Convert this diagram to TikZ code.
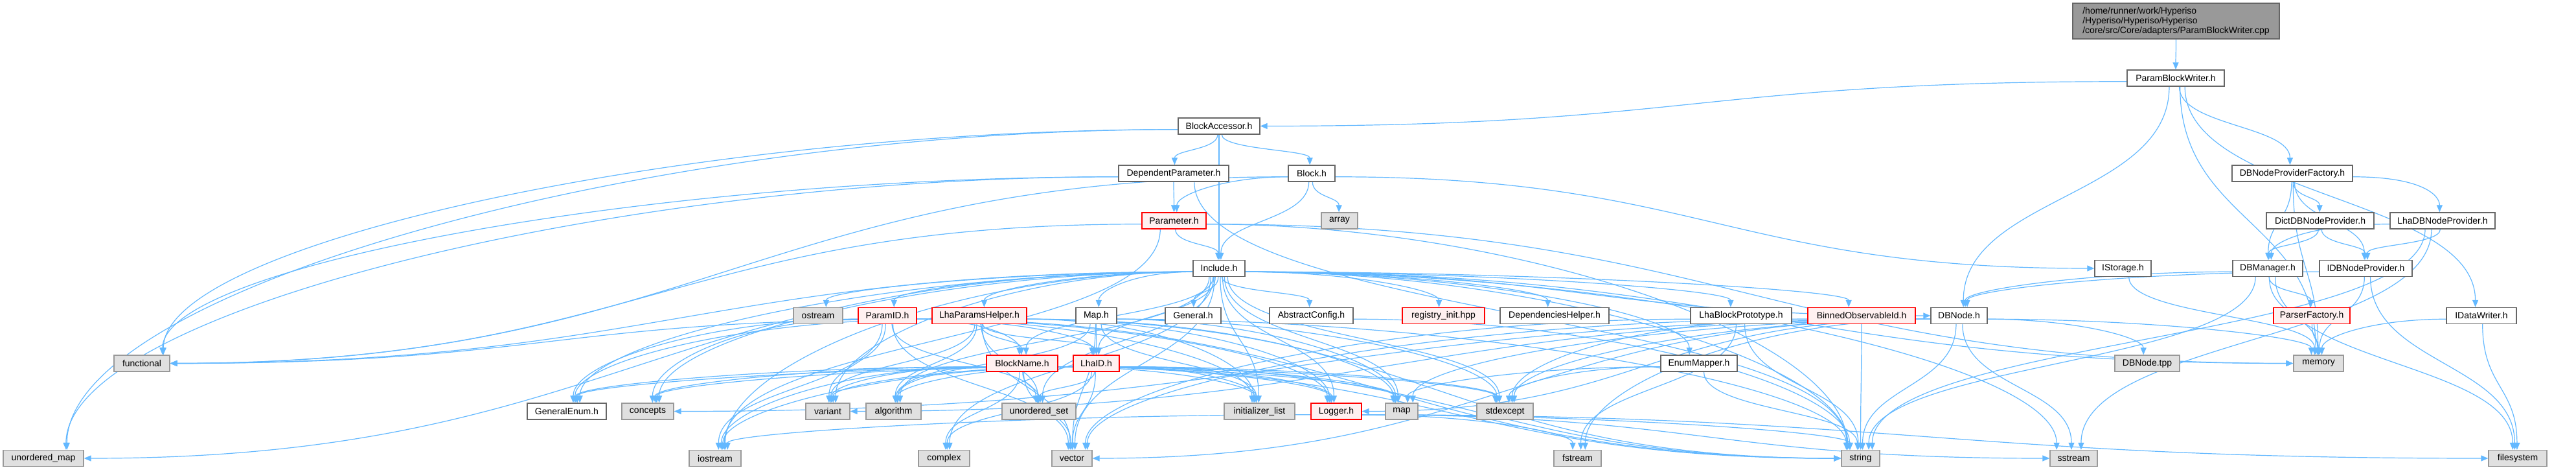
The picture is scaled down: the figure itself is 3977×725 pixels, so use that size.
\documentclass[tikz,border=0pt]{standalone}
\usepackage{fontspec}
\setmainfont{Liberation Sans}
\usetikzlibrary{arrows.meta,calc}

\definecolor{edgeblue}{HTML}{63B8FF}
\definecolor{boxgray}{HTML}{666666}
\definecolor{rootgray}{HTML}{999999}
\definecolor{sysfill}{HTML}{E0E0E0}
\definecolor{sysdraw}{HTML}{999999}
\definecolor{redfill}{HTML}{FFF0F0}

\pgfdeclarelayer{edges}
\pgfsetlayers{edges,main}

% include edge: leaves by the bottom (or the side when the target is far away)
\newcommand\dep[2]{%
  \draw[dep] let \p1=(#1.center), \p2=(#2.center), \p3=(#1.north east), \p4=(#2.north east),
      \n{dx}={\x2-\x1}, \n{dy}={\y1-\y2},
      \n{s}={ifthenelse(\n{dx}>0,1,-1)},
      \n{out}={ifthenelse(abs(\n{dx})>2.5*\n{dy},1,0)},
      \n{in}={ifthenelse(abs(\n{dx})>6*\n{dy},ifthenelse(\n{dy}>100,1,ifthenelse(abs(\n{dx})>1000,1,0)),0)},
      \n{sx}={\x1+ifthenelse(\n{out}>0,(\n{s})*(\x3-\x1),min(max(0.03*\n{dx},\x1-\x3+8),\x3-\x1-8))},
      \n{sy}={\y1-(1-0.6*\n{out})*(\y3-\y1)},
      \n{ex}={\x2+ifthenelse(\n{in}>0,(0-\n{s})*(\x4-\x2),min(max(-0.02*\n{dx},\x2-\x4+8),\x4-\x2-8))},
      \n{ey}={\y2+(1-\n{in})*(\y4-\y2)},
      \n{gap}={max(15,0.5*(\n{sy}-\n{ey}))},
      \n{hx}={0.45*abs(\n{dx})}
    in (\n{sx},\n{sy}) .. controls +({(\n{out})*(\n{s})*\n{hx}},{(\n{out}-1)*\n{gap}})
        and +({(0-\n{in})*(\n{s})*\n{hx}},{(1-\n{in})*\n{gap}}) .. (\n{ex},\n{ey});}

\begin{document}
\begin{tikzpicture}[x=1pt,y=1pt,
    file/.style={draw=boxgray, fill=white, line width=1.3pt, minimum height=25pt,
      inner sep=1pt, font=\fontsize{14}{15}\selectfont},
    sys/.style={file, draw=sysdraw, fill=sysfill},
    part/.style={file, draw=red, fill=redfill},
    dep/.style={draw=edgeblue, line width=1.2pt, -{Triangle[length=11pt,width=9pt]}}]

    \useasboundingbox (0,0) rectangle (3977,725);

    % Source file
    \node[file, fill=rootgray, align=left, minimum width=319pt, minimum height=55pt]
        (root) at (3359.5,692.5)
        {/home/runner/work/Hyperiso\\/Hyperiso/Hyperiso/Hyperiso\\/core/src/Core/adapters/ParamBlockWriter.cpp};

    % Headers of the project
    \node[file, minimum width=150pt] (pbw) at (3359,604.5) {ParamBlockWriter.h};
    \node[file, minimum width=126pt] (acc) at (1882,530.5) {BlockAccessor.h};
    \node[file, minimum width=170pt] (deppar) at (1812,457.5) {DependentParameter.h};
    \node[file, minimum width=72pt] (block) at (2025,457.5) {Block.h};
    \node[file, minimum width=186pt] (factory) at (3539,457.5) {DBNodeProviderFactory.h};
    \node[part, minimum width=99pt] (param) at (1812.5,384.5) {Parameter.h};
    \node[file, minimum width=166pt] (dictprov) at (3582,384.5) {DictDBNodeProvider.h};
    \node[file, minimum width=162pt] (lhaprov) at (3771,384.5) {LhaDBNodeProvider.h};
    \node[file, minimum width=80pt] (incl) at (1882,311) {Include.h};
    \node[file, minimum width=87pt] (istorage) at (3277.5,311) {IStorage.h};
    \node[file, minimum width=108pt] (dbman) at (3501,311) {DBManager.h};
    \node[file, minimum width=143pt] (idbprov) at (3652.5,311) {IDBNodeProvider.h};
    \node[part, minimum width=90pt] (paramid) at (1370,238) {ParamID.h};
    \node[part, minimum width=146pt] (lhahelp) at (1512,238) {LhaParamsHelper.h};
    \node[file, minimum width=63pt] (maph) at (1692.5,238) {Map.h};
    \node[file, minimum width=86pt] (general) at (1842,238) {General.h};
    \node[file, minimum width=129pt] (absconf) at (2024.5,238) {AbstractConfig.h};
    \node[part, minimum width=127pt] (registry) at (2228.5,238) {registry\_init.hpp};
    \node[file, minimum width=168pt] (dephelp) at (2400,238) {DependenciesHelper.h};
    \node[file, minimum width=156pt] (lhaproto) at (2688,238) {LhaBlockPrototype.h};
    \node[part, minimum width=166pt] (binned) at (2874,238) {BinnedObservableId.h};
    \node[file, minimum width=87pt] (dbnode) at (3024.5,238) {DBNode.h};
    \node[part, minimum width=118pt] (parserfac) at (3569,238) {ParserFactory.h};
    \node[file, minimum width=108pt] (idatawriter) at (3831,238) {IDataWriter.h};
    \node[part, minimum width=110pt] (blockname) at (1578,164.5) {BlockName.h};
    \node[part, minimum width=71pt] (lhaid) at (1692.5,164.5) {LhaID.h};
    \node[file, minimum width=118pt] (enummap) at (2623,164.5) {EnumMapper.h};
    \node[file, minimum width=122pt] (genenum) at (875,90.5) {GeneralEnum.h};
    \node[part, minimum width=78pt] (logger) at (2063,90.5) {Logger.h};

    % System headers
    \node[sys, minimum width=56pt] (array) at (2068,384.5) {array};
    \node[sys, minimum width=76pt] (ostream) at (1263,238) {ostream};
    \node[sys, minimum width=86pt] (functional) at (219,164.5) {functional};
    \node[sys, minimum width=100pt] (dbnodetpp) at (3315,164.5) {DBNode.tpp};
    \node[sys, minimum width=77pt] (memory) at (3579.5,164.5) {memory};
    \node[sys, minimum width=80pt] (concepts) at (1000,90.5) {concepts};
    \node[sys, minimum width=68pt] (variant) at (1278,90.5) {variant};
    \node[sys, minimum width=85pt] (algorithm) at (1379.5,90.5) {algorithm};
    \node[sys, minimum width=114pt] (uset) at (1604,90.5) {unordered\_set};
    \node[sys, minimum width=109pt] (initlist) at (1944.5,90.5) {initializer\_list};
    \node[sys, minimum width=50pt] (map) at (2164,90.5) {map};
    \node[sys, minimum width=87pt] (stdexcept) at (2323.5,90.5) {stdexcept};
    \node[sys, minimum width=124pt] (umap) at (67,18) {unordered\_map};
    \node[sys, minimum width=80pt] (iostream) at (1104,18) {iostream};
    \node[sys, minimum width=79pt] (complex) at (1457.5,18) {complex};
    \node[sys, minimum width=62pt] (vector) at (1655,18) {vector};
    \node[sys, minimum width=73pt] (fstream) at (2435.5,18) {fstream};
    \node[sys, minimum width=59pt] (string) at (2872.5,18) {string};
    \node[sys, minimum width=73pt] (sstream) at (3201.5,18) {sstream};
    \node[sys, minimum width=90pt] (filesystem) at (3887,18) {filesystem};

    % Includes
    \begin{pgfonlayer}{edges}
    \foreach \a/\b in {root/pbw,
        pbw/acc, pbw/dbnode, pbw/memory, pbw/factory, pbw/idatawriter,
        acc/umap, acc/functional, acc/deppar, acc/incl, acc/block,
        deppar/umap, deppar/functional, deppar/param, deppar/string,
        block/functional, block/param, block/incl, block/array, block/istorage,
        param/functional, param/iostream, param/incl, param/memory, param/string,
        factory/dictprov, factory/lhaprov, factory/dbman, factory/idbprov, factory/memory,
        dictprov/dbman, dictprov/idbprov,
        lhaprov/dbman, lhaprov/idbprov, lhaprov/sstream, lhaprov/string,
        dbman/dbnode, dbman/parserfac, dbman/memory, dbman/filesystem, dbman/string,
        idbprov/dbnode, idbprov/memory, idbprov/filesystem,
        istorage/memory, parserfac/memory, idatawriter/memory, idatawriter/filesystem}
        \dep{\a}{\b};
    \foreach \b in {umap, functional, ostream, paramid, lhahelp, maph, general, absconf,
        registry, dephelp, lhaproto, binned, dbnode, blockname, lhaid, enummap, genenum,
        concepts, variant, algorithm, uset, initlist, logger, map, stdexcept, iostream,
        complex, vector, string, sstream, memory}
        \dep{incl}{\b};
    \foreach \a/\b in {paramid/genenum, paramid/concepts, paramid/variant, paramid/uset,
        paramid/blockname, paramid/lhaid, paramid/initlist, paramid/logger,
        paramid/iostream, paramid/vector, paramid/string,
        lhahelp/genenum, lhahelp/functional, lhahelp/blockname, lhahelp/lhaid,
        lhahelp/variant, lhahelp/algorithm, lhahelp/uset, lhahelp/initlist,
        lhahelp/logger, lhahelp/map, lhahelp/vector, lhahelp/string,
        maph/lhaid, maph/algorithm, maph/initlist, maph/map, maph/stdexcept,
        maph/vector, maph/string,
        absconf/string, enummap/map, enummap/stdexcept, enummap/string,
        lhaproto/vector, lhaproto/fstream, lhaproto/string,
        binned/stdexcept, binned/vector, binned/string,
        dbnode/dbnodetpp, dbnode/memory, dbnode/concepts, dbnode/variant, dbnode/logger,
        dbnode/map, dbnode/stdexcept, dbnode/vector, dbnode/fstream, dbnode/string,
        dbnode/sstream,
        logger/iostream, logger/fstream, logger/string, logger/sstream, logger/filesystem}
        \dep{\a}{\b};
    \foreach \a in {blockname, lhaid}
        \foreach \b in {genenum, concepts, variant, algorithm, uset, initlist, logger,
            map, stdexcept, iostream, complex, vector, string}
            \dep{\a}{\b};
    \end{pgfonlayer}
\end{tikzpicture}
\end{document}
